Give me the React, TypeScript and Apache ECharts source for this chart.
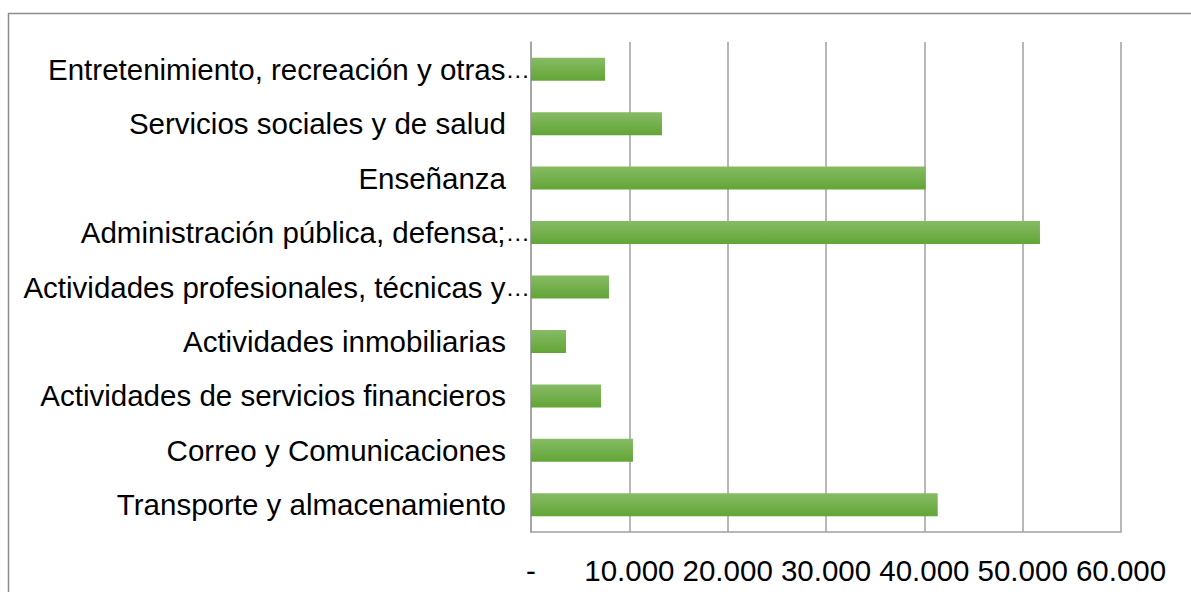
import React, { useEffect, useRef } from "react";
import * as echarts from "echarts";

const categories = [
  "Transporte y almacenamiento",
  "Correo y Comunicaciones",
  "Actividades de servicios financieros",
  "Actividades inmobiliarias",
  "Actividades profesionales, técnicas y…",
  "Administración pública, defensa;…",
  "Enseñanza",
  "Servicios sociales y de salud",
  "Entretenimiento, recreación y otras…",
];
const truncated = [false, false, false, false, true, true, false, false, true];
const values = [41360, 10370, 7120, 3560, 7930, 51760, 40140, 13320, 7530];
const xTicks = { min: 0, max: 60000, interval: 10000 };

const fmt = (v: number) => {
  if (v === 0) return "-";
  return String(v).replace(/\B(?=(\d{3})+(?!\d))/g, ".");
};

export default function App() {
  const ref = useRef<HTMLDivElement>(null);
  useEffect(() => {
    if (!ref.current) return;
    const chart = echarts.init(ref.current, null, { renderer: "svg" });
    const font = "'Liberation Sans', Arial, sans-serif";
    chart.setOption({
      animation: false,
      backgroundColor: "#ffffff",
      graphic: [
        {
          type: "rect",
          shape: { x: 8.5, y: 13.5, width: 1300, height: 700 },
          style: { fill: "none", stroke: "#8c8c8c", lineWidth: 1.5 },
          silent: true,
        },
      ],
      grid: { left: 531, right: 70, top: 42, bottom: 60, containLabel: false },
      xAxis: {
        type: "value",
        min: xTicks.min,
        max: xTicks.max,
        interval: xTicks.interval,
        axisLine: { show: true, lineStyle: { color: "#a0a0a0", width: 1.5 } },
        axisTick: { show: false },
        splitLine: { show: true, lineStyle: { color: "#a0a0a0", width: 1.5 } },
        axisLabel: {
          formatter: (v: number) => fmt(v),
          color: "#000",
          fontFamily: font,
          fontSize: 29.5,
          margin: 23,
        },
      },
      yAxis: {
        type: "category",
        data: categories.map((c, i) => ({
          value: c,
          textStyle: { padding: [0, truncated[i] ? 0 : 24, 0, 0] },
        })),
        axisLine: { show: true, lineStyle: { color: "#a0a0a0", width: 1.5 } },
        axisTick: { show: false },
        splitLine: { show: false },
        axisLabel: {
          color: "#000",
          fontFamily: font,
          fontSize: 29.5,
          margin: 1,
          formatter: (v: string) =>
            v.endsWith("…") ? `${v.slice(0, -1)}{e|…}` : v,
          rich: {
            e: { fontFamily: font, fontSize: 24.5, color: "#000" },
          },
        },
      },
      series: [
        {
          type: "bar",
          data: values,
          barWidth: 23,
          itemStyle: {
            color: new echarts.graphic.LinearGradient(0, 0, 0, 1, [
              { offset: 0, color: "#87bb65" },
              { offset: 1, color: "#62a536" },
            ]),
          },
        },
      ],
    });
    return () => chart.dispose();
  }, []);
  return (
    <div
      ref={ref}
      style={{ position: "absolute", left: 0, top: 0, width: 1191, height: 592 }}
    />
  );
}
